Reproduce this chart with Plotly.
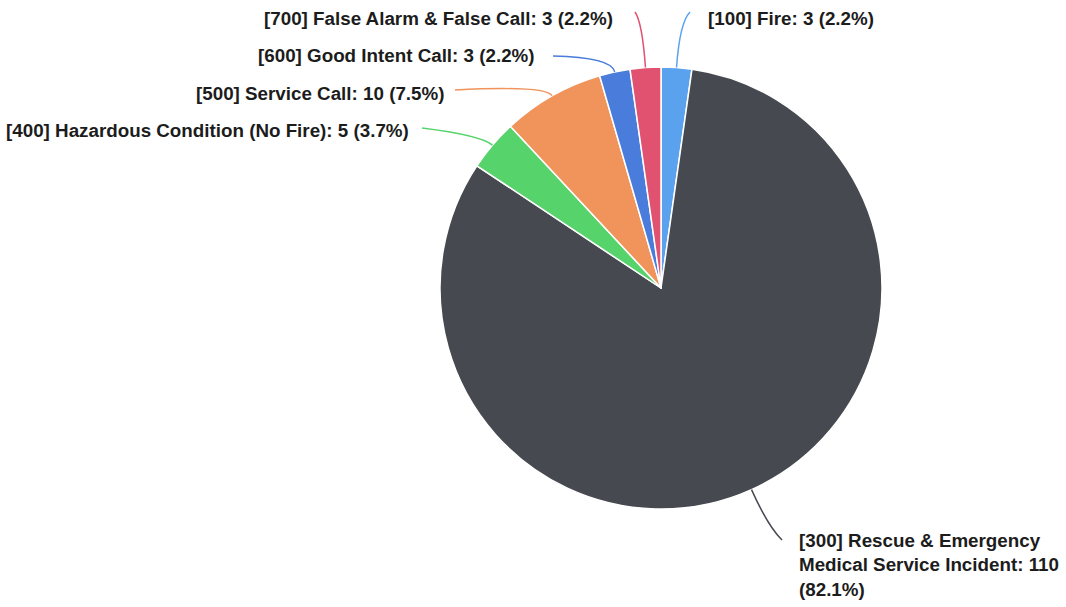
import math
import plotly.graph_objects as go

W, H = 1066, 607

codes = ["[100] Fire", "[300] Rescue & Emergency Medical Service Incident",
         "[400] Hazardous Condition (No Fire)", "[500] Service Call",
         "[600] Good Intent Call", "[700] False Alarm & False Call"]
values = [3, 110, 5, 10, 3, 3]
label_texts = [
    "[100] Fire: 3 (2.2%)",
    "[300] Rescue & Emergency<br>Medical Service Incident: 110<br>(82.1%)",
    "[400] Hazardous Condition (No Fire): 5 (3.7%)",
    "[500] Service Call: 10 (7.5%)",
    "[600] Good Intent Call: 3 (2.2%)",
    "[700] False Alarm & False Call: 3 (2.2%)",
]
colors = ["#5aa2ee", "#46494f", "#56d36b", "#f0945c", "#4a7ddb", "#e0526f"]

# layout (pixel) geometry
cx, cy, R = 661, 288, 221
# label anchor (x, y, xanchor), leader end point, control length
label_pos = [
    (706, 18, "left", (690, 12), 45),
    (797, 565, "left", (782, 540), 40),
    (411, 130, "right", (422, 128), 15),
    (446, 93, "right", (455, 90), 12),
    (537, 56, "right", (553, 56), 15),
    (615, 18, "right", (635, 12), 45),
]

def px(x):
    return x / W

def py(y):
    return 1 - y / H

fig = go.Figure()
fig.add_trace(go.Pie(
    labels=codes, values=values, sort=False, direction="clockwise", rotation=0,
    marker=dict(colors=colors, line=dict(color="white", width=1.5)),
    textinfo="none", hoverinfo="label+value+percent", showlegend=False,
    domain=dict(x=[px(cx - R), px(cx + R)], y=[py(cy + R), py(cy - R)]),
))

total = sum(values)
cum = 0
shapes = []
annotations = []
for v, txt, col, (lx, ly, anc, end, clen) in zip(values, label_texts, colors, label_pos):
    mid = (cum + v / 2) / total * 2 * math.pi
    cum += v
    dx, dy = math.sin(mid), -math.cos(mid)
    x0, y0 = cx + R * dx, cy + R * dy
    qx, qy = x0 + clen * dx, y0 + clen * dy
    path = f"M {px(x0)},{py(y0)} Q {px(qx)},{py(qy)} {px(end[0])},{py(end[1])}"
    shapes.append(dict(type="path", xref="paper", yref="paper", path=path,
                       line=dict(color=col, width=1.5)))
    annotations.append(dict(x=px(lx), y=py(ly), xref="paper", yref="paper",
                            text=txt, showarrow=False, xanchor=anc, yanchor="middle",
                            align="left",
                            font=dict(family="Liberation Sans, Arial, sans-serif",
                                      size=18.8, color="#1c1c1c")))

fig.update_layout(
    width=W, height=H, margin=dict(l=0, r=0, t=0, b=0),
    paper_bgcolor="white", plot_bgcolor="white",
    shapes=shapes, annotations=annotations,
    font=dict(family="Liberation Sans, Arial, sans-serif"),
)
fig.update_annotations(font_weight="bold")
fig.write_html("out.html")
